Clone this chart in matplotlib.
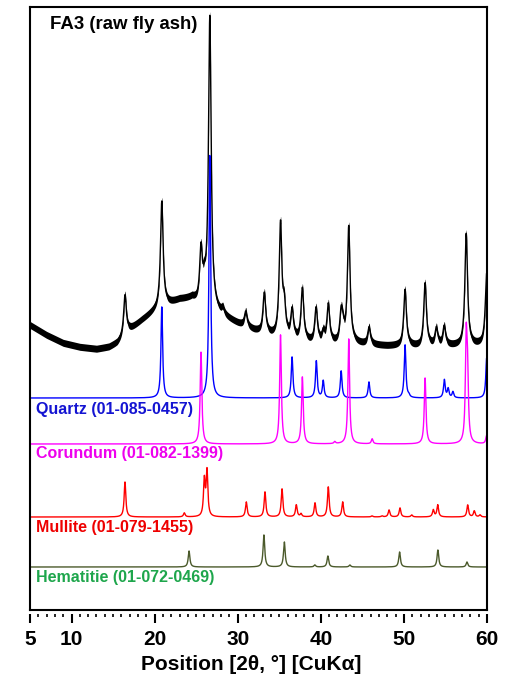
import numpy as np
import matplotlib.pyplot as plt

plt.rcParams['font.family'] = ['Liberation Sans', 'DejaVu Sans']
plt.rcParams['font.weight'] = 'bold'

# raw pattern: amorphous background (2theta, counts) + reflections (2theta, height)
bg_pos = [5, 7, 9, 11, 13, 14.5, 15.5, 17, 18.5, 20, 21.5, 23, 24.5, 25.3, 28, 30, 32,
          34, 36, 38, 40, 42, 44, 46, 48, 50, 52, 54, 56, 58, 60]
bg_val = [285, 275, 267, 263, 261, 263, 267, 280, 290, 299, 305, 310, 311, 305, 294,
          286, 279, 274, 271, 268, 266, 266, 266, 265, 264, 264, 263, 264, 264, 264, 266]
raw_pos = [16.43, 20.86, 25.58, 26.0, 26.64, 28.2, 30.96, 33.2, 35.15, 35.6, 36.54,
           37.78, 39.43, 40.29, 40.9, 42.45, 42.65, 43.36, 45.8, 50.14, 52.55, 53.9,
           54.85, 57.5, 59.96]
raw_h = [40, 106, 52, 16, 292, 6, 15, 40, 112, 28, 28, 52, 34, 10, 38, 28, 10, 116, 17,
         56, 63, 17, 19, 112, 70]

# reference cards: baseline and (2theta, height)
qz_base = 212
qz_pos = [20.86, 26.64, 36.54, 39.46, 40.29, 42.45, 45.79, 50.14, 50.6, 54.87, 55.33,
          55.9, 59.96]
qz_h = [91, 243, 41, 37, 17, 27, 16, 53, 2, 18, 9, 6, 40]

co_base = 166
co_pos = [25.58, 35.15, 37.78, 41.68, 43.36, 46.18, 52.55, 57.5, 57.66, 59.95]
co_h = [92, 109, 67, 2, 105, 5, 66, 99, 60, 8]

mu_base = 93
mu_pos = [16.43, 23.57, 25.98, 26.3, 31.03, 33.28, 35.33, 37.05, 37.62, 39.3, 40.9,
          42.63, 46.16, 47.36, 48.21, 49.53, 50.94, 53.54, 54.07, 57.68, 58.47, 59.16]
mu_h = [35, 4, 36, 45, 15, 25, 28, 12, 3, 14, 30, 15, 1, 1, 7, 9, 2, 7, 12, 12, 6, 2]

he_base = 43
he_pos = [24.14, 33.15, 35.61, 39.28, 40.85, 43.5, 49.48, 54.09, 57.59]
he_h = [16, 32, 25, 2, 11, 2, 15, 17, 5]

tth = np.linspace(5, 60, 4000)


def profile(pos, h, hw=0.12):
    y = np.zeros_like(tth)
    for p, a in zip(pos, h):
        y += a / (1 + ((tth - p) / hw) ** 2)
    return y


fig, ax = plt.subplots(figsize=(5.15, 6.78), dpi=100)
fig.subplots_adjust(left=0.0583, right=0.9456, top=0.9897, bottom=0.1003)

raw = np.interp(tth, bg_pos, bg_val) + profile(raw_pos, raw_h, 0.19)
ax.fill_between(tth, raw - 3.5, raw + 3.5, color='k', lw=0)
ax.plot(tth, raw, color='k', lw=1)

ax.plot(tth, qz_base + profile(qz_pos, qz_h), color='#0000ff', lw=1)
ax.plot(tth, co_base + profile(co_pos, co_h), color='#ff00ff', lw=1)
ax.plot(tth, mu_base + profile(mu_pos, mu_h), color='#ff0000', lw=1)
ax.plot(tth, he_base + profile(he_pos, he_h), color='#4b5a2b', lw=1)

ax.text(7.4, 585, 'FA3 (raw fly ash)', fontsize=13.4, fontweight='bold', va='center')
ax.text(5.7, 200, 'Quartz (01-085-0457)', fontsize=11.5, fontweight='bold', color='#1414d2', va='center')
ax.text(5.7, 156, 'Corundum (01-082-1399)', fontsize=11.5, fontweight='bold', color='#ee00ee', va='center')
ax.text(5.7, 82, 'Mullite (01-079-1455)', fontsize=11.5, fontweight='bold', color='#ee0000', va='center')
ax.text(5.7, 32, 'Hematitie (01-072-0469)', fontsize=11.5, fontweight='bold', color='#1ea64c', va='center')

ax.set_xlim(5, 60)
ax.set_ylim(0, 603)
ax.set_yticks([])
ax.set_xticks([5, 10, 20, 30, 40, 50, 60])
ax.set_xticks(np.arange(5, 61, 1), minor=True)
ax.tick_params(axis='x', which='major', direction='out', length=6.5, width=1.5,
               labelsize=15, pad=5)
ax.tick_params(axis='x', which='minor', direction='out', length=2.2, width=1.2)
ax.xaxis.get_major_ticks()[0].tick1line.set_markersize(2.2)
for lbl in ax.get_xticklabels():
    lbl.set_fontweight('bold')
ax.set_xlabel('Position [2θ, °] [CuKα]', fontsize=15, fontweight='bold', labelpad=2)
ax.xaxis.set_label_coords(0.485, -0.075)

for s in ['top', 'left', 'right']:
    ax.spines[s].set_linewidth(1.5)
ax.spines['bottom'].set_position(('outward', 3))
ax.spines['bottom'].set_visible(False)
ax.plot([0, 1], [0, 0], transform=ax.transAxes, color='k', lw=1.5, clip_on=False)

fig.savefig('out.png', dpi=100)
